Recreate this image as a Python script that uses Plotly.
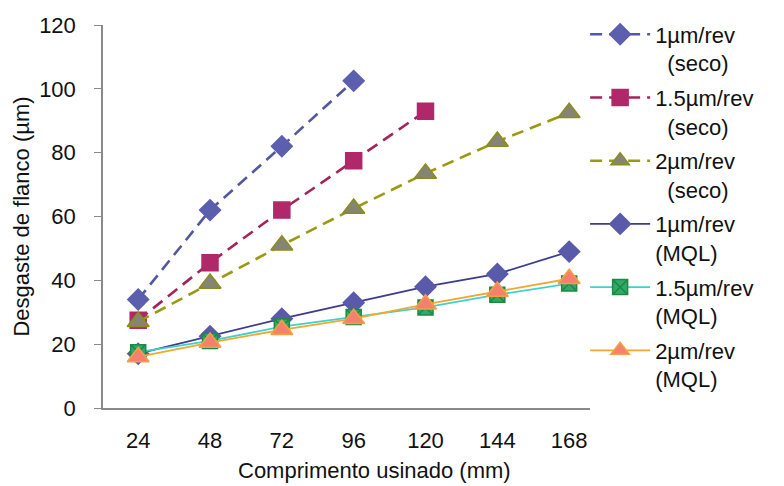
import plotly.graph_objects as go

categories = ["24", "48", "72", "96", "120", "144", "168"]
names = ["1µm/rev<br>\u00a0\u00a0(seco)", "1.5µm/rev<br>\u00a0\u00a0(seco)", "2µm/rev<br>\u00a0\u00a0(seco)",
         "1µm/rev<br>(MQL)", "1.5µm/rev<br>(MQL)", "2µm/rev<br>(MQL)"]
dry_1 = [34, 62, 82, 102.5]
dry_15 = [27.5, 45.5, 62, 77.5, 93]
dry_2 = [27, 39, 51, 62.5, 73.5, 83.5, 92.5]
mql_1 = [17, 22.5, 28, 33, 38, 42, 49]
mql_15 = [17.5, 21, 25.5, 28.5, 31.5, 35.5, 39]
mql_2 = [16, 20.5, 24.5, 28, 32.5, 36.5, 40.5]
x_title = "Comprimento usinado (mm)"
y_title = "Desgaste de flanco (µm)"

series = [dry_1, dry_15, dry_2, mql_1, mql_15, mql_2]
line_colors = ["#5357A0", "#A3245A", "#9A9A10", "#3C3C8C", "#3FD0D0", "#F0A830"]
marker_colors = ["#5B5FAE", "#B0286A", "#858575", "#5A5AAA", "#2EAA6E", "#F58070"]
marker_lines = ["#5B5FAE", "#B0286A", "#8C8C1A", "#5A5AAA", "#1E8A40", "#F5A040"]
symbols = ["diamond", "square", "triangle-up", "diamond", "square-x", "triangle-up"]
dashes = ["12px,7px", "12px,7px", "12px,7px", "solid", "solid", "solid"]
sizes = [16, 16, 19, 16, 15, 19]

fig = go.Figure()
for i, vals in enumerate(series):
    fig.add_trace(go.Scatter(
        x=categories[:len(vals)], y=vals, name=names[i], mode="lines+markers",
        legendgroup=str(i),
        line=dict(color=line_colors[i], width=2.6 if i < 3 else 1.8, dash=dashes[i]),
        marker=dict(symbol=symbols[i], size=sizes[i], color=marker_colors[i],
                    line=dict(color=marker_lines[i], width=1.5)),
    ))

font = "Liberation Sans, Arial, sans-serif"
fig.update_layout(
    width=784, height=486,
    margin=dict(l=103, r=194, t=25, b=78),
    paper_bgcolor="white", plot_bgcolor="white",
    font=dict(family=font, size=21, color="#111111"),
    showlegend=True,
    legend=dict(x=0.99, y=1.03, xanchor="left", yanchor="top",
                font=dict(size=22), tracegroupgap=3, valign="top",
                itemwidth=60, maxheight=480,
                traceorder="grouped", bgcolor="rgba(0,0,0,0)"),
    xaxis=dict(type="category", range=[-0.49, 6.29], showline=True, automargin=False,
               linecolor="#8a8a8a", linewidth=1.5, ticks="", showgrid=False,
               tickfont=dict(size=22), ticklabelstandoff=12),
    yaxis=dict(range=[0, 120], dtick=20, showline=True, linecolor="#8a8a8a",
               linewidth=1.5, ticks="outside", ticklen=7, tickcolor="#8a8a8a",
               showgrid=False, zeroline=False, tickfont=dict(size=22),
               ticklabelstandoff=14, automargin=False,
               title=dict(text=y_title, font=dict(size=22), standoff=3)),
    annotations=[dict(text=x_title, xref="paper", yref="paper", x=0.5565, y=-0.162,
                      xanchor="center", yanchor="middle", showarrow=False,
                      font=dict(size=22))],
)
fig.write_html("out.html")
